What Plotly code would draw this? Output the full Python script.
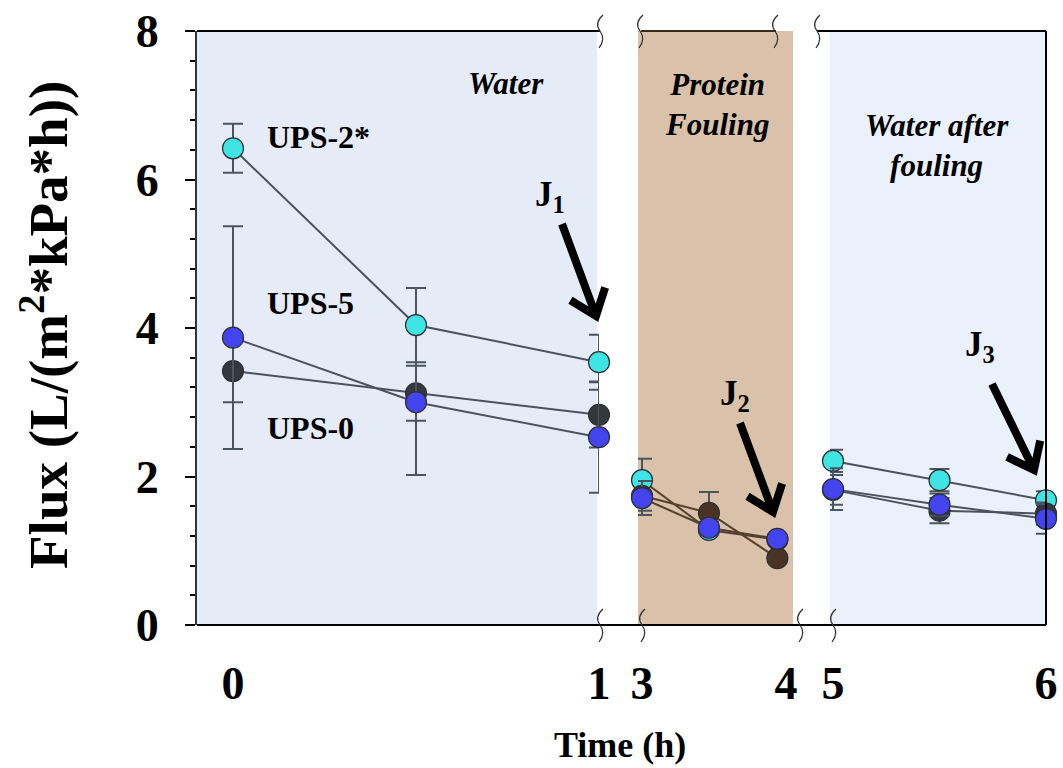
import math
import plotly.graph_objects as go

# ---------------- data ----------------
series_names = ["UPS-0", "UPS-5", "UPS-2*"]

water_t = [0.0, 0.5, 1.0]
water_ups2 = [6.42, 4.04, 3.54]
water_ups2_err = [0.33, 0.50, 0.37]
water_ups5 = [3.87, 3.00, 2.53]
water_ups5_err = [1.50, 0.98, 0.75]
water_ups0 = [3.42, 3.12, 2.83]
water_ups0_err = [0.42, 0.37, 0.44]

protein_t = [3.0, 3.465, 3.94]
protein_ups2 = [1.95, 1.28, 1.15]
protein_ups2_err = [0.29, 0.05, 0.05]
protein_ups5 = [1.71, 1.31, 1.16]
protein_ups5_err = [0.23, 0.08, 0.06]
protein_ups0 = [1.74, 1.51, 0.90]
protein_ups0_err = [0.20, 0.28, 0.05]

after_t = [5.0, 5.5, 6.0]
after_ups2 = [2.21, 1.95, 1.68]
after_ups2_err = [0.15, 0.15, 0.12]
after_ups5 = [1.83, 1.62, 1.43]
after_ups5_err = [0.28, 0.15, 0.20]
after_ups0 = [1.82, 1.54, 1.50]
after_ups0_err = [0.20, 0.17, 0.15]

x1_ticks = [0, 1]
x2_ticks = [3, 4]
x3_ticks = [5, 6]
y_ticks = [0, 2, 4, 6, 8]

# ---------------- styling ----------------
W, H = 1063, 768
L, R, T, B = 197, 1046, 31, 625
FONT = "Liberation Serif"
CYAN = "#3fe4e4"
BLUE = "#4444ee"
GRAY = "#33383f"
BROWN = "#4a3322"
LINE = "#4a525c"
LINE_BROWN = "#55402e"
ERR = "#4a5560"


def P(px, py):
    return ((px - L) / (R - L), (B - py) / (B - T))


fig = go.Figure()


def add(xs, ys, err, color, xaxis, line_color, edge="#2b2f35"):
    fig.add_trace(go.Scatter(
        x=xs, y=ys, xaxis=xaxis, yaxis="y", mode="lines+markers",
        line=dict(color=line_color, width=2),
        marker=dict(size=21, color=color, line=dict(color=edge, width=1.2)),
        error_y=dict(type="data", array=err, visible=True, color=ERR,
                     thickness=2, width=10),
        cliponaxis=False, showlegend=False, hoverinfo="skip"))


# water segment
add(water_t, water_ups0, water_ups0_err, GRAY, "x", LINE)
add(water_t, water_ups5, water_ups5_err, BLUE, "x", LINE)
add(water_t, water_ups2, water_ups2_err, CYAN, "x", LINE)
# protein fouling segment
add(protein_t, protein_ups2, protein_ups2_err, CYAN, "x2", LINE_BROWN)
add(protein_t, protein_ups0, protein_ups0_err, BROWN, "x2", LINE_BROWN)
add(protein_t, protein_ups5, protein_ups5_err, BLUE, "x2", LINE_BROWN)
# water after fouling
add(after_t, after_ups2, after_ups2_err, CYAN, "x3", LINE)
add(after_t, after_ups0, after_ups0_err, GRAY, "x3", LINE)
add(after_t, after_ups5, after_ups5_err, BLUE, "x3", LINE)

tickfont = dict(family=FONT, size=46, color="black", weight="bold")

xcommon = dict(anchor="y", showgrid=False, zeroline=False, showline=False,
               ticks="", tickfont=tickfont, ticklabelstandoff=27, automargin=False)

shapes = []
# backgrounds
for (a, b, col) in [(197, 597, "#e6ecf7"), (638, 793, "#d9c2a9"), (830, 1046, "#eaf1fa")]:
    x0, y0 = P(a, B)
    x1, y1 = P(b, T)
    shapes.append(dict(type="rect", xref="paper", yref="paper", x0=x0, x1=x1,
                       y0=y0, y1=y1, fillcolor=col, line=dict(width=0), layer="below"))


def seg(a, b, c, d, color="black", w=2):
    x0, y0 = P(a, b)
    x1, y1 = P(c, d)
    shapes.append(dict(type="line", xref="paper", yref="paper", x0=x0, y0=y0,
                       x1=x1, y1=y1, line=dict(color=color, width=w)))

seg(L, B, R, B)                  # bottom
seg(L, T, 600, T)                # top segment 1
seg(641, T, 776, T, "#3a2a1c")   # top segment 2
seg(817, T, R, T)                # top segment 3
seg(R, T, R, B)                  # right


# axis break marks
def brk(px, py):
    pts = [(px + 3, py - 16), (px - 6, py - 8), (px, py), (px + 6, py + 8), (px - 1, py + 17)]
    c = [P(*p) for p in pts]
    path = (f"M {c[0][0]},{c[0][1]} Q {c[1][0]},{c[1][1]} {c[2][0]},{c[2][1]} "
            f"Q {c[3][0]},{c[3][1]} {c[4][0]},{c[4][1]}")
    shapes.append(dict(type="path", xref="paper", yref="paper", path=path,
                       line=dict(color="#333333", width=1.2)))

for bx in [600, 642, 800, 833]:
    brk(bx, B)
for bx in [600, 640, 775, 817]:
    brk(bx, T)


# arrows
def arrow(tail, tip, w=8, arm=30, ang=38):
    dx, dy = tip[0] - tail[0], tip[1] - tail[1]
    n = math.hypot(dx, dy)
    ux, uy = dx / n, dy / n
    pts = []
    for s in (-1, 1):
        a = math.radians(ang) * s
        bx, by = -ux, -uy
        rx = bx * math.cos(a) - by * math.sin(a)
        ry = bx * math.sin(a) + by * math.cos(a)
        pts.append((tip[0] + rx * arm, tip[1] + ry * arm))
    t0 = P(*tail)
    t1 = P(tip[0] - ux * 3, tip[1] - uy * 3)
    a0 = P(*pts[0])
    tp = P(*tip)
    a1 = P(*pts[1])
    path = (f"M {t0[0]},{t0[1]} L {t1[0]},{t1[1]} "
            f"M {a0[0]},{a0[1]} L {tp[0]},{tp[1]} L {a1[0]},{a1[1]}")
    shapes.append(dict(type="path", xref="paper", yref="paper", path=path,
                       line=dict(color="black", width=w)))

arrow((562, 224), (596, 316))
arrow((740, 423), (773, 512))
arrow((992, 384), (1034, 470))

annotations = []


def txt(s, px, py, size, xanchor="center", yanchor="middle", angle=0):
    x, y = P(px, py)
    annotations.append(dict(text=s, x=x, y=y, xref="paper", yref="paper",
                            showarrow=False, xanchor=xanchor, yanchor=yanchor,
                            textangle=angle,
                            font=dict(family=FONT, size=size, color="black")))

txt("<b>UPS-2*</b>", 265, 137, 32, xanchor="left")
txt("<b>UPS-5</b>", 265, 303, 32, xanchor="left")
txt("<b>UPS-0</b>", 265, 428, 32, xanchor="left")
txt("<b><i>Water</i></b>", 506, 83, 31)
txt("<b><i>Protein<br>Fouling</i></b>", 717, 104, 31)
txt("<b><i>Water after<br>fouling</i></b>", 937, 146, 31)
txt("<b>J<sub>1</sub></b>", 550, 196, 35)
txt("<b>J<sub>2</sub></b>", 735, 395, 35)
txt("<b>J<sub>3</sub></b>", 980, 346, 35)
txt("<b>Time (h)</b>", 620, 745, 36)
txt("<b>Flux (L/(m<sup>2</sup>*kPa*h))</b>", 44, 325, 55, angle=-90)

fig.update_layout(
    width=W, height=H,
    margin=dict(l=L, r=W - R, t=T, b=H - B, pad=0, autoexpand=False),
    paper_bgcolor="white", plot_bgcolor="white",
    showlegend=False,
    xaxis=dict(domain=[0, (599 - L) / (R - L)], range=[-36 / 366, 1.0],
               tickvals=x1_ticks, **xcommon),
    xaxis2=dict(domain=[(638 - L) / (R - L), (797 - L) / (R - L)],
                range=[3 - 4 / 144, 4 + 11 / 144], tickvals=x2_ticks, **xcommon),
    xaxis3=dict(domain=[(830 - L) / (R - L), 1.0], range=[5 - 3 / 213, 6.0],
                tickvals=x3_ticks, **xcommon),
    yaxis=dict(anchor="x", domain=[0, 1], range=[0, 8], tickvals=y_ticks,
               automargin=False,
               showgrid=False, zeroline=False, showline=True, linecolor="#333333",
               linewidth=2, ticks="outside", ticklen=10, tickwidth=2,
               tickcolor="black", tickfont=tickfont, ticklabelstandoff=17,
               minor=dict(dtick=0.4, ticks="outside", ticklen=5, tickwidth=2,
                          tickcolor="black", showgrid=False)),
    shapes=shapes, annotations=annotations,
)

fig.write_html("out.html")
